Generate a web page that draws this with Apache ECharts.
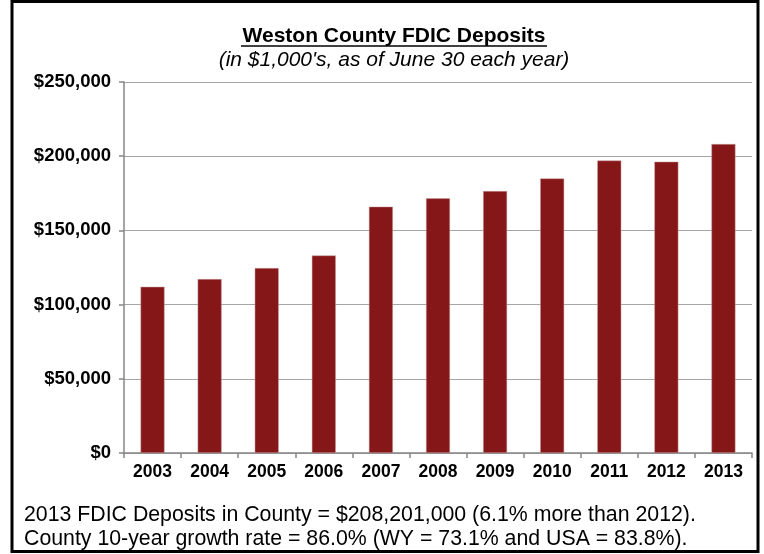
<!DOCTYPE html>
<html>
<head>
<meta charset="utf-8">
<script src="https://cdn.jsdelivr.net/npm/echarts@6/dist/echarts.min.js"></script>
<style>
html,body{margin:0;padding:0;background:#fff;}
#c{width:764px;height:554px;}
</style>
</head>
<body>
<div id="c"></div>
<script>
const years = ['2003','2004','2005','2006','2007','2008','2009','2010','2011','2012','2013'];
const deposits = [112000, 117200, 124600, 133100, 166000, 171600, 176500, 185000, 197100, 196300, 208201];
const yTicks = [0, 50000, 100000, 150000, 200000, 250000];
const titleText = 'Weston County FDIC Deposits';
const subtitleText = "(in $1,000's, as of June 30 each year)";
const noteLines = [
  '2013 FDIC Deposits in County = $208,201,000 (6.1% more than 2012).',
  'County 10-year growth rate = 86.0% (WY = 73.1% and USA = 83.8%).'
];

const chart = echarts.init(document.getElementById('c'), null, {renderer:'canvas'});
const fmt = v => '$' + v.toLocaleString('en-US');
const font = '"Liberation Sans", Arial, sans-serif';

chart.setOption({
  animation: false,
  backgroundColor: '#fff',
  grid: {left: 124, right: 12, top: 82, bottom: 101, containLabel: false},
  xAxis: {
    type: 'category',
    data: years,
    axisLine: {lineStyle: {color: '#868686', width: 1.5}},
    axisTick: {show: true, length: 5, lineStyle: {color: '#868686', width: 1.5}},
    axisLabel: {color: '#000', fontWeight: 'bold', fontSize: 17.5, fontFamily: font, margin: 10}
  },
  yAxis: {
    type: 'value',
    min: yTicks[0], max: yTicks[yTicks.length-1], interval: yTicks[1]-yTicks[0],
    axisLine: {show: true, lineStyle: {color: '#868686', width: 1.5}},
    axisTick: {show: true, length: 5, lineStyle: {color: '#868686', width: 1.5}},
    splitLine: {lineStyle: {color: '#a6a6a6', width: 1}},
    axisLabel: {color: '#000', fontWeight: 'bold', fontSize: 18.5, fontFamily: font, margin: 13, formatter: fmt}
  },
  series: [{
    type: 'bar',
    data: deposits,
    barWidth: '42%',
    itemStyle: {color: '#861719', borderColor: '#c8a0a0', borderWidth: 0.5}
  }],
  graphic: [
    {type: 'rect', shape: {x: 12, y: 1.5, width: 746, height: 550}, style: {fill: 'none', stroke: '#000', lineWidth: 3}},
    {type: 'text', x: 394, y: 36, style: {text: titleText, font: 'bold 21px ' + font, fill: '#000', align: 'center', verticalAlign: 'middle'}},
    {type: 'line', shape: {x1: 241, y1: 46, x2: 547, y2: 46}, style: {stroke: '#000', lineWidth: 1.5}},
    {type: 'text', x: 394, y: 60, style: {text: subtitleText, font: 'italic 21px ' + font, fill: '#000', align: 'center', verticalAlign: 'middle'}},
    {type: 'text', x: 24, y: 515, style: {text: noteLines[0], font: '21.3px ' + font, fill: '#000', align: 'left', verticalAlign: 'middle'}},
    {type: 'text', x: 24, y: 539, style: {text: noteLines[1], font: '21.3px ' + font, fill: '#000', align: 'left', verticalAlign: 'middle'}}
  ]
});
</script>
</body>
</html>
